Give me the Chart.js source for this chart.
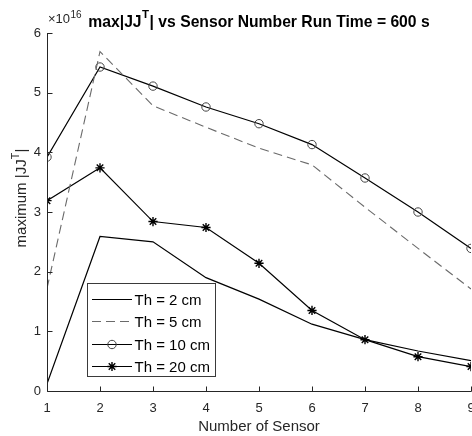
<!DOCTYPE html>
<html>
<head>
<meta charset="utf-8">
<script src="https://cdn.jsdelivr.net/npm/chart.js@4.4.1/dist/chart.umd.min.js"></script>
<style>
  html, body { margin: 0; padding: 0; background: #ffffff; }
  #wrap { width: 472px; height: 436px; }
</style>
</head>
<body>
<div id="wrap"><canvas id="c" width="472" height="436"></canvas></div>
<script>
// ---- data (y in absolute units) ----
const sensorNumbers = [1, 2, 3, 4, 5, 6, 7, 8, 9];
const th2Values  = [0.12e16, 2.59e16, 2.50e16, 1.90e16, 1.54e16, 1.12e16, 0.86e16, 0.67e16, 0.51e16];
const th5Values  = [1.72e16, 5.69e16, 4.78e16, 4.42e16, 4.07e16, 3.79e16, 3.08e16, 2.39e16, 1.71e16];
const th10Values = [3.92e16, 5.43e16, 5.11e16, 4.76e16, 4.48e16, 4.13e16, 3.57e16, 3.00e16, 2.39e16];
const th20Values = [3.19e16, 3.74e16, 2.84e16, 2.74e16, 2.14e16, 1.35e16, 0.86e16, 0.575e16, 0.41e16];
const seriesLabels = ['Th = 2 cm', 'Th = 5 cm', 'Th = 10 cm', 'Th = 20 cm'];
const xTickValues = [1, 2, 3, 4, 5, 6, 7, 8, 9];
const yTickValues = [0, 1e16, 2e16, 3e16, 4e16, 5e16, 6e16];
const yExponent = 16;
const titleMain = 'max|JJ';
const titleSup = 'T';
const titleRest = '| vs Sensor Number Run Time = 600 s';
const yLabelMain = 'maximum |JJ';
const yLabelSup = 'T';
const yLabelRest = '|';
const xLabelText = 'Number of Sensor';

const FONT = '"Liberation Sans", Arial, Helvetica, sans-serif';
const AXIS_COLOR = '#262626';

const toPoints = vals => sensorNumbers.map((x, i) => ({ x: x, y: vals[i] }));

const datasets = [
  { label: seriesLabels[0], data: toPoints(th2Values), borderColor: '#000', borderWidth: 1.2,
    pointRadius: 0, fill: false, tension: 0 },
  { label: seriesLabels[1], data: toPoints(th5Values), borderColor: '#6a6a6a', borderWidth: 1.1,
    borderDash: [9, 5], pointRadius: 0, fill: false, tension: 0 },
  { label: seriesLabels[2], data: toPoints(th10Values), borderColor: '#000', borderWidth: 1.2,
    pointStyle: 'circle', pointRadius: 4.2, pointBorderColor: '#444', pointBorderWidth: 1,
    pointBackgroundColor: 'rgba(0,0,0,0)', fill: false, tension: 0 },
  { label: seriesLabels[3], data: toPoints(th20Values), borderColor: '#000', borderWidth: 1.2,
    pointStyle: 'star', pointRadius: 4.6, pointBorderColor: '#000', pointBorderWidth: 1.4,
    pointBackgroundColor: '#000', fill: false, tension: 0 }
];

// ---- plugin: axis lines and inward ticks ----
const axesPlugin = {
  id: 'matlabAxes',
  afterDatasetsDraw(chart) {
    const { ctx, chartArea } = chart;
    const xs = chart.scales.x, ys = chart.scales.y;
    const L = Math.round(chartArea.left) + 0.5;
    const B = Math.round(chartArea.bottom) + 0.5;
    ctx.save();
    ctx.strokeStyle = AXIS_COLOR;
    ctx.lineWidth = 1;
    ctx.beginPath();
    ctx.moveTo(L, ys.getPixelForValue(yTickValues[yTickValues.length - 1]));
    ctx.lineTo(L, B);
    ctx.lineTo(Math.round(chartArea.right) + 0.5, B);
    xTickValues.forEach(v => {
      const px = Math.round(xs.getPixelForValue(v)) + 0.5;
      ctx.moveTo(px, B);
      ctx.lineTo(px, B - 5);
    });
    yTickValues.forEach(v => {
      const py = Math.round(ys.getPixelForValue(v)) + 0.5;
      ctx.moveTo(L, py);
      ctx.lineTo(L + 5, py);
    });
    ctx.stroke();
    ctx.restore();
  }
};

// ---- plugin: title, exponent, y label, legend ----
const textPlugin = {
  id: 'matlabText',
  afterDraw(chart) {
    const { ctx, chartArea } = chart;
    ctx.save();
    // exponent label
    ctx.fillStyle = AXIS_COLOR;
    ctx.textBaseline = 'alphabetic';
    ctx.textAlign = 'left';
    ctx.font = '13px ' + FONT;
    const ex = chartArea.left + 1;
    ctx.fillText('\u00d710', ex, 23);
    const w10 = ctx.measureText('\u00d710').width;
    ctx.font = '10px ' + FONT;
    ctx.fillText(String(yExponent), ex + w10 + 0.5, 17.5);

    // title (bold, with superscript)
    const TF = 'bold 15.7px ' + FONT, TS = 'bold 11.5px ' + FONT;
    ctx.fillStyle = '#000';
    ctx.font = TF;
    const wA = ctx.measureText(titleMain).width;
    const wC = ctx.measureText(titleRest).width;
    ctx.font = TS;
    const wB = ctx.measureText(titleSup).width;
    const total = wA + wB + 1 + wC;
    let tx = (chartArea.left + chartArea.right) / 2 - total / 2;
    ctx.font = TF;
    ctx.fillText(titleMain, tx, 26.7);
    ctx.font = TS;
    ctx.fillText(titleSup, tx + wA + 0.5, 17.5);
    ctx.font = TF;
    ctx.fillText(titleRest, tx + wA + wB + 1, 26.7);

    // y label (rotated, with superscript)
    ctx.save();
    ctx.translate(26, 198);
    ctx.rotate(-Math.PI / 2);
    ctx.fillStyle = AXIS_COLOR;
    ctx.font = '15px ' + FONT;
    const yA = ctx.measureText(yLabelMain).width;
    const yC = ctx.measureText(yLabelRest).width;
    ctx.font = '10.5px ' + FONT;
    const yB = ctx.measureText(yLabelSup).width;
    const yTot = yA + yB + 0.5 + yC;
    let ly = -yTot / 2;
    ctx.font = '15px ' + FONT;
    ctx.fillText(yLabelMain, ly, 0);
    ctx.font = '10.5px ' + FONT;
    ctx.fillText(yLabelSup, ly + yA, -7.5);
    ctx.font = '15px ' + FONT;
    ctx.fillText(yLabelRest, ly + yA + yB + 0.5, 0);
    ctx.restore();

    // legend box
    const bx = 87.5, by = 283.5, bw = 128, bh = 93;
    ctx.fillStyle = '#fff';
    ctx.fillRect(bx, by, bw, bh);
    ctx.strokeStyle = '#3a3a3a';
    ctx.lineWidth = 1;
    ctx.strokeRect(bx, by, bw, bh);
    const rowY0 = 298.5, rowStep = 22.6;
    chart.data.datasets.forEach((ds, i) => {
      const y = Math.round(rowY0 + i * rowStep) + 0.5;
      const x0 = 92, x1 = 132;
      ctx.save();
      ctx.strokeStyle = ds.borderColor;
      ctx.lineWidth = 1.2;
      ctx.setLineDash(ds.borderDash || []);
      ctx.beginPath();
      ctx.moveTo(x0, y);
      ctx.lineTo(x1, y);
      ctx.stroke();
      ctx.restore();
      if (ds.pointRadius > 0) {
        ctx.save();
        ctx.strokeStyle = ds.pointBorderColor;
        ctx.fillStyle = ds.pointBackgroundColor;
        ctx.lineWidth = ds.pointBorderWidth;
        Chart.helpers.drawPoint(ctx, {
          pointStyle: ds.pointStyle,
          radius: ds.pointRadius,
          rotation: 0,
          borderWidth: ds.pointBorderWidth
        }, (x0 + x1) / 2, y);
        ctx.restore();
      }
      ctx.fillStyle = '#000';
      ctx.font = '15px ' + FONT;
      ctx.textBaseline = 'middle';
      ctx.fillText(ds.label, 134.5, y + 1);
    });
    ctx.restore();
  }
};

const chart = new Chart(document.getElementById('c').getContext('2d'), {
  type: 'line',
  data: { datasets: datasets },
  options: {
    responsive: false,
    animation: false,
    devicePixelRatio: 1,
    layout: { autoPadding: false, padding: { top: 33, right: 1, left: 0, bottom: 0 } },
    plugins: { legend: { display: false }, title: { display: false }, tooltip: { enabled: false } },
    scales: {
      x: {
        type: 'linear', min: 1, max: 9,
        afterFit: s => { s.height = 45; s.paddingLeft = 0; s.paddingRight = 0; },
        afterBuildTicks: s => { s.ticks = xTickValues.map(v => ({ value: v })); },
        grid: { display: false, drawTicks: false },
        border: { display: false },
        ticks: { color: AXIS_COLOR, font: { family: FONT, size: 13 }, padding: 10,
                 maxRotation: 0, autoSkip: false, callback: v => String(v) },
        title: { display: true, text: xLabelText, color: AXIS_COLOR,
                 font: { family: FONT, size: 15 }, padding: { top: 0, bottom: 0 } }
      },
      y: {
        type: 'linear', min: 0, max: 6e16,
        afterFit: s => { s.width = 47; s.paddingTop = 0; s.paddingBottom = 0; },
        afterBuildTicks: s => { s.ticks = yTickValues.map(v => ({ value: v })); },
        grid: { display: false, drawTicks: false },
        border: { display: false },
        ticks: { color: AXIS_COLOR, font: { family: FONT, size: 13 }, padding: 6,
                 callback: v => String(Math.round(v / Math.pow(10, yExponent))) }
      }
    }
  },
  plugins: [axesPlugin, textPlugin]
});
</script>
</body>
</html>
